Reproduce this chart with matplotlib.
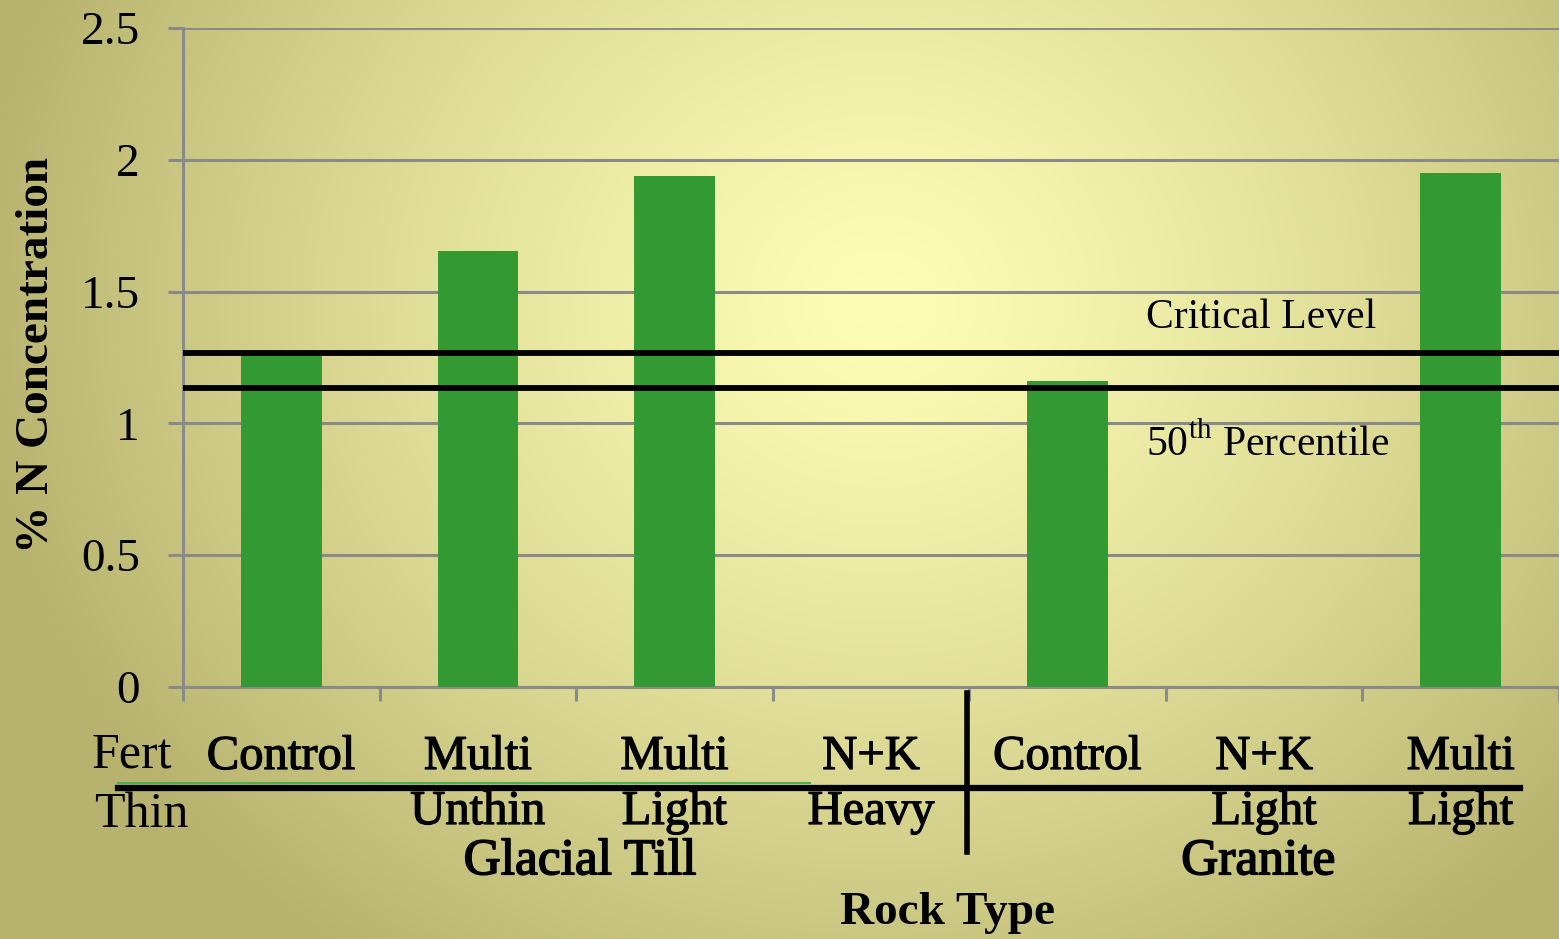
import numpy as np
import matplotlib
matplotlib.use("Agg")
import matplotlib.pyplot as plt
from matplotlib.lines import Line2D
import matplotlib.transforms as mtransforms
import matplotlib.patheffects as pe

plt.rcParams['font.family'] = ['Liberation Serif', 'DejaVu Serif']
plt.rcParams['mathtext.fontset'] = 'custom'
plt.rcParams['mathtext.rm'] = 'Liberation Serif'

# ---- data ----
fert = ['Control', 'Multi', 'Multi', 'N+K', 'Control', 'N+K', 'Multi']
thin = ['', 'Unthin', 'Light', 'Heavy', '', 'Light', 'Light']
values = [1.27, 1.655, 1.94, 0.0, 1.16, 0.0, 1.95]
groups = ['Glacial Till', 'Granite']
group_centers = [1.52, 4.97]
critical_level = 1.267
percentile_50 = 1.134
yticks = [0, 0.5, 1, 1.5, 2, 2.5]
ytick_labels = ['0', '0.5', '1', '1.5', '2', '2.5']

W, H = 1559, 939
fig = plt.figure(figsize=(W / 100, H / 100), dpi=100)

# background radial gradient
bg = fig.add_axes([0, 0, 1, 1], zorder=-10)
yy, xx = np.mgrid[0:H, 0:W]
cx, cy = 880, 300
d = np.sqrt(((xx - cx) / 900.0) ** 2 + ((yy - cy) / 800.0) ** 2)
t = np.clip(d, 0, 1) ** 1.3
center = np.array([253, 253, 182]) / 255.0
edge = np.array([184, 180, 112]) / 255.0
img = center[None, None, :] * (1 - t[..., None]) + edge[None, None, :] * t[..., None]
bg.imshow(img, aspect='auto', extent=[0, 1, 0, 1], origin='upper')
bg.axis('off')

ax = fig.add_axes([183 / W, 1 - 687 / H, 1 - 183 / W, (687 - 28) / H])
ax.set_facecolor('none')
x = np.arange(len(values))
ax.bar(x, values, width=0.41, color='#339933', zorder=3)
ax.set_xlim(-0.5, len(values) - 0.5)
ax.set_ylim(0, 2.5)

grid_c = '#8a8a8a'
ax.set_yticks(yticks)
ax.set_yticklabels(ytick_labels, fontsize=34)
ax.yaxis.grid(True, color=grid_c, linewidth=2.2, zorder=1)
ax.set_axisbelow(True)
ax.tick_params(axis='y', length=11, width=2.2, color=grid_c, pad=20)
ax.set_xticks(np.arange(-0.5, len(values) + 0.5, 1))
ax.set_xticklabels([])
ax.tick_params(axis='x', length=10, width=2.2, color=grid_c, direction='out')
for s in ['top', 'right']:
    ax.spines[s].set_visible(False)
for s in ['left', 'bottom']:
    ax.spines[s].set_color(grid_c)
    ax.spines[s].set_linewidth(2.2)

ax.axhline(critical_level, color='black', linewidth=4.2, zorder=4)
ax.axhline(percentile_50, color='black', linewidth=4.2, zorder=4)

ax.text(1146 / W, 1 - 328 / H, 'Critical Level', transform=fig.transFigure,
        fontsize=30, ha='left', va='baseline')
ax.text(1146 / W, 1 - 456 / H, '50$^{\\mathrm{th}}$ Percentile', transform=fig.transFigure,
        fontsize=30, ha='left', va='baseline')

fig.text(37 / W, 1 - 355 / H, '% N Concentration', rotation=90, ha='center', va='center',
         fontsize=34, fontweight='bold')

heavy = [pe.withStroke(linewidth=0.9, foreground='black')]
trans = mtransforms.blended_transform_factory(ax.transData, fig.transFigure)
for i in range(len(values)):
    ax.text(x[i], 1 - 757 / H, fert[i], transform=trans, ha='center', va='center',
            fontsize=35, path_effects=heavy)
    if thin[i]:
        ax.text(x[i], 1 - 812 / H, thin[i], transform=trans, ha='center', va='center',
                fontsize=35, path_effects=heavy)
for g, c in zip(groups, group_centers):
    ax.text(c, 1 - 862 / H, g, transform=trans, ha='center', va='center', fontsize=37,
            path_effects=[pe.withStroke(linewidth=1.2, foreground='black')])

fig.text(132 / W, 1 - 755 / H, 'Fert', ha='center', va='center', fontsize=36)
fig.text(141 / W, 1 - 815 / H, 'Thin', ha='center', va='center', fontsize=36)
fig.text(948 / W, 1 - 913 / H, 'Rock Type', ha='center', va='center', fontsize=34, fontweight='bold')

# separator lines
fig.add_artist(Line2D([118 / W, 810 / W], [1 - 783 / H, 1 - 783 / H], color='#4caf50', linewidth=1.5))
fig.add_artist(Line2D([118 / W, 1520 / W], [1 - 788 / H, 1 - 788 / H], color='black', linewidth=4.5))
fig.add_artist(Line2D([967 / W, 967 / W], [1 - 693 / H, 1 - 852 / H], color='black', linewidth=4))

fig.savefig('out.png', dpi=100)
